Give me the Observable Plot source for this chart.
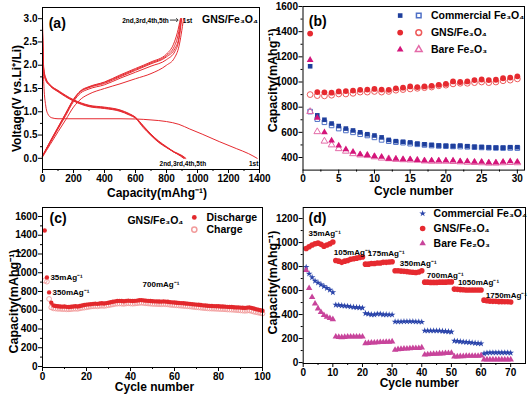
<!DOCTYPE html>
<html><head><meta charset="utf-8">
<script src="https://cdn.jsdelivr.net/npm/d3@7"></script>
<script src="https://cdn.jsdelivr.net/npm/@observablehq/plot@0.6"></script>
<style>
body{margin:0;background:#fff;}
#wrap{position:relative;width:532px;height:395px;overflow:hidden;background:#fff;}
#wrap > div{position:absolute;}
</style></head><body>
<div id="wrap"><div id="pa" style="left:0;top:0"></div><div id="pb" style="left:266px;top:0"></div><div id="pc" style="left:0;top:197px"></div><div id="pd" style="left:266px;top:197px"></div></div>
<script>
// ---------- Panel (a): voltage profiles ----------
const aDis1Cap = [0,4,10,20,35,60,100,300,500,600,700,800,880,950,1030,1140,1250,1330,1385];
const aDis1V   = [2.65,2.0,1.5,1.15,0.95,0.87,0.85,0.85,0.85,0.845,0.825,0.79,0.73,0.63,0.52,0.36,0.21,0.1,0.0];
const aDis2Cap = [0,3,8,20,50,100,200,300,400,500,560,600,650,700,750,800,850,900,920];
const aDis2V   = [2.7,2.2,1.85,1.68,1.55,1.43,1.23,1.11,1.07,1.01,0.93,0.86,0.66,0.49,0.34,0.23,0.13,0.05,0.0];
const aDis3Cap = [0,3,8,20,50,100,200,300,400,500,560,600,650,700,750,800,850,895,915];
const aDis3V   = [2.75,2.25,1.88,1.7,1.56,1.44,1.24,1.12,1.08,1.02,0.94,0.87,0.68,0.5,0.35,0.24,0.13,0.05,0.0];
const aDis4Cap = [0,3,8,20,50,100,200,300,400,500,560,600,650,700,750,800,850,890,910];
const aDis4V   = [2.8,2.3,1.9,1.72,1.57,1.45,1.25,1.13,1.09,1.03,0.95,0.88,0.69,0.51,0.36,0.24,0.13,0.05,0.0];
const aDis5Cap = [0,3,8,20,50,100,200,300,400,500,560,600,650,700,750,800,850,900,925];
const aDis5V   = [3.0,2.4,1.95,1.74,1.58,1.46,1.26,1.14,1.1,1.04,0.96,0.88,0.7,0.52,0.37,0.25,0.14,0.06,0.0];
const aChg1Cap = [0,50,100,150,200,250,300,400,500,600,700,800,850,880,910];
const aChg1V   = [0.03,0.3,0.57,0.83,1.1,1.28,1.38,1.5,1.6,1.71,1.82,2.0,2.15,2.4,3.0];
const aChg2Cap = [0,50,100,150,200,245,300,400,500,600,700,800,855,880,895];
const aChg2V   = [0.05,0.35,0.65,0.95,1.25,1.43,1.52,1.61,1.75,1.89,2.03,2.18,2.36,2.6,3.0];
const aChg3Cap = [0,50,100,150,200,245,300,400,500,600,700,800,850,875,893];
const aChg3V   = [0.05,0.36,0.66,0.96,1.26,1.44,1.53,1.63,1.77,1.91,2.05,2.21,2.4,2.65,3.0];
const aChg4Cap = [0,50,100,150,200,245,300,400,500,600,700,800,845,870,890];
const aChg4V   = [0.05,0.37,0.67,0.97,1.27,1.45,1.54,1.64,1.79,1.93,2.07,2.24,2.45,2.7,3.0];
const aChg5Cap = [0,50,100,150,200,245,300,400,500,600,700,800,855,880,898];
const aChg5V   = [0.04,0.34,0.63,0.92,1.22,1.4,1.49,1.58,1.72,1.85,1.98,2.12,2.3,2.55,3.0];
const aCapTicks = [0,200,400,600,800,1000,1200,1400];
const aVTicks = [0,0.5,1,1.5,2,2.5,3];

// ---------- Panel (b): cycling at constant rate ----------
const bCycles = d3.range(1,31);
const bCommDis = [1125,735,700,670,650,630,615,600,585,575,560,540,530,525,520,510,505,500,495,493,490,495,490,485,483,480,478,478,482,482];
const bCommChg = [765,705,680,655,630,615,600,585,575,560,540,530,522,518,510,505,500,495,492,490,488,487,485,482,480,478,476,475,476,475];
const bGnsDis  = [1385,920,918,915,925,928,932,938,940,945,940,938,950,955,965,960,965,970,978,985,1005,1000,1005,1015,1020,1015,1018,1030,1035,1045];
const bGnsChg  = [900,892,890,895,905,905,910,920,920,925,920,925,935,940,945,950,955,960,970,975,985,990,990,995,1000,995,1000,1010,1015,1025];
const bBareDis = [1175,715,600,535,495,465,445,425,420,410,405,390,390,385,385,380,375,375,375,375,375,370,370,365,365,360,360,365,370,365];
const bBareChg = [765,605,530,500,470,450,430,420,415,405,395,390,385,382,380,378,372,370,370,370,368,365,362,360,358,355,355,358,360,358];
const bNames = ["Commercial Fe₃O₄","GNS/Fe₃O₄","Bare Fe₂O₃"];

// ---------- Panel (c): long cycling ----------
const cDischarge = [1450,950,790,680,
 650,645,642,640,638,640,
 636,635,637,640,642,640,645,650,655,660,
 662,665,668,670,668,672,675,672,676,680,
 685,690,695,698,700,698,696,700,702,700,
 698,700,703,706,708,705,702,700,698,696,
 695,694,693,692,694,692,690,686,684,682,
 680,678,676,674,672,670,668,665,662,660,
 658,655,652,650,648,646,645,644,643,642,
 640,640,638,636,635,634,632,630,630,628,
 626,625,628,630,625,618,612,606,600,595];
const cCharge = [915,905,720,630,
 620,618,615,615,612,612,
 610,610,612,615,616,615,620,625,628,632,
 636,640,642,644,642,646,648,646,650,654,
 658,662,668,670,672,670,668,672,674,672,
 670,672,675,678,680,677,674,672,670,668,
 667,666,665,664,666,664,662,658,656,654,
 652,650,648,646,644,642,640,637,634,632,
 630,627,624,622,620,618,617,616,615,614,
 612,612,610,608,607,606,604,602,600,598,
 596,594,596,598,592,585,580,575,570,565];

// ---------- Panel (d): rate capability ----------
const dComm = [795,740,710,680,665,650,635,620,605,585,
 480,478,475,472,470,465,462,460,458,455,
 410,405,400,400,405,405,400,400,398,398,
 340,340,340,342,342,342,342,340,340,338,
 265,265,265,265,265,265,262,260,258,255,
 180,178,175,172,170,168,165,162,160,158,
 75,80,82,82,82,82,82,82,82,80];
const dGns = [950,965,980,990,995,985,970,980,990,1005,
 850,845,835,845,850,860,865,870,875,880,
 820,820,825,825,830,830,835,835,838,840,
 765,765,762,760,758,755,752,750,755,765,
 670,670,668,668,668,670,670,670,672,672,
 612,610,608,606,605,605,605,605,605,605,
 520,515,512,510,510,508,508,507,507,505];
const dBare = [770,620,545,490,450,420,395,380,370,360,
 215,212,210,212,215,215,215,215,215,215,
 160,162,165,165,168,170,170,172,172,175,
 105,110,112,115,115,118,120,120,120,125,
 65,68,70,72,72,75,75,78,78,80,
 50,50,52,52,55,55,55,55,55,58,
 25,25,25,25,25,25,25,25,25,25];
const dRates = ["35mAg⁻¹","105mAg⁻¹","175mAg⁻¹","350mAg⁻¹","700mAg⁻¹","1050mAg⁻¹","1750mAg⁻¹"];

// ---------- styling ----------
const FONT = '"Liberation Sans", Arial, Helvetica, sans-serif';
const RED = "#e62a30", RED_O = "#ee5a5a";
const BLUE = "#1f3f9c", BLUE_O = "#4f70c6";
const MAG = "#d4157a", MAG_O = "#e46aa8";
const style = {fontFamily: FONT, fontWeight: "bold", fontSize: "10px", background: "transparent", overflow: "visible", color: "#000"};
const T = (s, o) => Plot.text([s], {text: d => d, fill: "#000", ...o});
function axes(xMaj, xMin, yMaj, yMin, yFmt) {
  return [
    Plot.axisX({ticks: xMaj, tickSize: 4, tickPadding: 1, label: null, fontSize: 10, tickFormat: d3.format("d")}),
    Plot.axisX({ticks: xMin, tickSize: 2, tickFormat: () => "", label: null}),
    Plot.axisY({ticks: yMaj, tickSize: 4, tickPadding: 1, label: null, fontSize: 10, tickFormat: yFmt}),
    Plot.axisY({ticks: yMin, tickSize: 2, tickFormat: () => "", label: null}),
    Plot.frame({stroke: "#000", strokeWidth: 1})
  ];
}

// ---------- build (a) ----------
const aCurves = [
  [aDis1Cap,aDis1V],[aDis2Cap,aDis2V],[aDis3Cap,aDis3V],[aDis4Cap,aDis4V],[aDis5Cap,aDis5V],
  [aChg1Cap,aChg1V],[aChg2Cap,aChg2V],[aChg3Cap,aChg3V],[aChg4Cap,aChg4V],[aChg5Cap,aChg5V]
];
const rowsA = [];
aCurves.forEach(([c, v], k) => c.forEach((x, i) => rowsA.push({cap: x, v: v[i], id: k})));
const plotA = Plot.plot({
  width: 268, height: 197, marginLeft: 42, marginRight: 9, marginTop: 7, marginBottom: 28,
  style,
  x: {domain: [0, 1400], label: null}, y: {domain: [-0.24, 3.24], label: null},
  marks: [
    Plot.line(rowsA, {x: "cap", y: "v", z: "id", stroke: RED, strokeWidth: 1, curve: "monotone-x"}),
    ...axes(aCapTicks, d3.range(100, 1400, 200), aVTicks, d3.range(0.25, 3.2, 0.5), d3.format(".1f")),
    T("(a)", {x: () => 40, y: () => 2.9, textAnchor: "start", fontSize: 14}),
    T("GNS/Fe₃O₄", {x: () => 1390, y: () => 2.99, textAnchor: "end", fontSize: 10.5}),
    T("2nd,3rd,4th,5th", {x: () => 815, y: () => 2.96, textAnchor: "end", fontSize: 6.5}),
    Plot.link([0], {x1: () => 822, x2: () => 870, y1: () => 2.97, y2: () => 2.97, stroke: "black", strokeWidth: 0.8, markerEnd: "arrow"}),
    T("1st", {x: () => 905, y: () => 2.96, textAnchor: "start", fontSize: 6.5}),
    T("2nd,3rd,4th,5th", {x: () => 755, y: () => -0.13, textAnchor: "start", fontSize: 6.5}),
    T("1st", {x: () => 1393, y: () => -0.13, textAnchor: "end", fontSize: 6.5}),
    T("Capacity(mAhg⁻¹)", {frameAnchor: "bottom", textAnchor: "middle", lineAnchor: "middle", dx: 6, dy: 24, fontSize: 12}),
    T("Voltage(V vs.Li⁺/Li)", {frameAnchor: "left", textAnchor: "middle", lineAnchor: "middle", rotate: -90, dx: -25, dy: 10, fontSize: 12})
  ]
});
document.getElementById("pa").appendChild(plotA);

// ---------- build (b) ----------
const seriesB = [
  {name: bNames[0], fill: BLUE, open: BLUE_O, symbol: "square", r: 2.6, dis: bCommDis, chg: bCommChg},
  {name: bNames[1], fill: RED, open: RED_O, symbol: "circle", r: 2.9, dis: bGnsDis, chg: bGnsChg},
  {name: bNames[2], fill: MAG, open: MAG_O, symbol: "triangle", r: 2.5, dis: bBareDis, chg: bBareChg}
];
const marksB = [];
seriesB.forEach((s, si) => {
  const rowsO = s.chg.map((v, i) => ({cycle: bCycles[i], cap: v}));
  const rowsF = s.dis.map((v, i) => ({cycle: bCycles[i], cap: v}));
  marksB.push(Plot.dot(rowsO, {x: "cycle", y: "cap", symbol: s.symbol, r: s.r, stroke: s.open, strokeWidth: 1, fill: "none"}));
  marksB.push(Plot.dot(rowsF, {x: "cycle", y: "cap", symbol: s.symbol, r: s.r, fill: s.fill}));
  const ly = 1528 - si * 135;
  marksB.push(Plot.dot([s], {x: () => 13.6, y: () => ly, symbol: s.symbol, r: s.r, fill: s.fill}));
  marksB.push(Plot.dot([s], {x: () => 16.2, y: () => ly, symbol: s.symbol, r: s.r, stroke: s.open, fill: "none"}));
  marksB.push(Plot.text([s], {x: () => 17.9, y: () => ly, text: d => d.name, textAnchor: "start", fontSize: 10.5, fill: "#000"}));
});
const plotB = Plot.plot({
  width: 266, height: 197, marginLeft: 36.5, marginRight: 8, marginTop: 6, marginBottom: 27.4,
  style,
  x: {domain: [0, 31], label: null}, y: {domain: [300, 1600], label: null},
  marks: [
    ...marksB,
    ...axes(d3.range(0, 31, 5), d3.range(2.5, 31, 5), d3.range(400, 1601, 200), d3.range(500, 1600, 200), d3.format("d")),
    T("(b)", {x: () => 0.8, y: () => 1480, textAnchor: "start", fontSize: 14}),
    T("Cycle number", {frameAnchor: "bottom", textAnchor: "middle", lineAnchor: "middle", dx: 0, dy: 21, fontSize: 12}),
    T("Capacity(mAhg⁻¹)", {frameAnchor: "left", textAnchor: "middle", lineAnchor: "middle", rotate: -90, dx: -30, dy: -8, fontSize: 12.5})
  ]
});
document.getElementById("pb").appendChild(plotB);

// ---------- build (c) ----------
const rowsCD = cDischarge.map((v, i) => ({cycle: i + 1, cap: v}));
const rowsCC = cCharge.map((v, i) => ({cycle: i + 1, cap: v}));
const plotC = Plot.plot({
  width: 268, height: 198, marginLeft: 42, marginRight: 6, marginTop: 10, marginBottom: 28,
  style,
  x: {domain: [0, 100], label: null}, y: {domain: [-11, 1696], label: null},
  marks: [
    Plot.dot(rowsCC, {x: "cycle", y: "cap", r: 2.4, stroke: "#f29c9c", strokeWidth: 0.9, fill: "none"}),
    Plot.dot(rowsCD, {x: "cycle", y: "cap", r: 2.2, fill: "#e2282c"}),
    ...axes(d3.range(0, 101, 20), d3.range(10, 100, 20), d3.range(0, 1601, 200), d3.range(100, 1700, 200), d3.format("d")),
    T("(c)", {x: () => 3.2, y: () => 1580, textAnchor: "start", fontSize: 14}),
    T("GNS/Fe₃O₄", {x: () => 38.6, y: () => 1555, textAnchor: "start", fontSize: 10.5}),
    Plot.dot([0], {x: () => 69, y: () => 1590, r: 2.4, fill: "#e2282c"}),
    Plot.dot([0], {x: () => 69, y: () => 1461, r: 2.6, stroke: "#f29c9c", fill: "none"}),
    T("Discharge", {x: () => 74.5, y: () => 1590, textAnchor: "start", fontSize: 10.5}),
    T("Charge", {x: () => 74.5, y: () => 1461, textAnchor: "start", fontSize: 10.5}),
    T("35mAg⁻¹", {x: () => 3.6, y: () => 950, textAnchor: "start", fontSize: 8}),
    T("350mAg⁻¹", {x: () => 4.6, y: () => 790, textAnchor: "start", fontSize: 8}),
    T("700mAg⁻¹", {x: () => 45.5, y: () => 875, textAnchor: "start", fontSize: 8}),
    T("Cycle number", {frameAnchor: "bottom", textAnchor: "middle", lineAnchor: "middle", dx: 2, dy: 20, fontSize: 12}),
    T("Capacity(mAhg⁻¹)", {frameAnchor: "left", textAnchor: "middle", lineAnchor: "middle", rotate: -90, dx: -29, dy: 14, fontSize: 12.5})
  ]
});
document.getElementById("pc").appendChild(plotC);

// ---------- build (d) ----------
const seriesD = [
  {name: bNames[0], fill: "#2a44aa", symbol: "star", r: 2.1, vals: dComm},
  {name: bNames[1], fill: RED, symbol: "circle", r: 2.8, vals: dGns},
  {name: bNames[2], fill: "#c8449b", symbol: "triangle", r: 2.4, vals: dBare}
];
const marksD = [];
seriesD.forEach((s, si) => {
  const rows = s.vals.map((v, i) => ({cycle: i + 1, cap: v}));
  marksD.push(Plot.dot(rows, {x: "cycle", y: "cap", symbol: s.symbol, r: s.r, fill: s.fill}));
  const ly = 1242 - si * 125;
  marksD.push(Plot.dot([s], {x: () => 40.3, y: () => ly, symbol: s.symbol, r: s.r, fill: s.fill}));
  marksD.push(Plot.text([s], {x: () => 44, y: () => ly, text: d => d.name, textAnchor: "start", fontSize: 10.5, fill: "#000"}));
});
const rateX = [1.8, 10.3, 21.8, 32.6, 41.7, 52.2, 61.6];
const rateY = [1075, 915, 908, 825, 725, 667, 558];
const rateRows = dRates.map((t, i) => ({t, x: rateX[i], y: rateY[i]}));
const plotD = Plot.plot({
  width: 266, height: 198, marginLeft: 36.7, marginRight: 7, marginTop: 10, marginBottom: 32,
  style,
  x: {domain: [0, 75], label: null}, y: {domain: [-8, 1292], label: null},
  marks: [
    ...marksD,
    Plot.text(rateRows, {x: "x", y: "y", text: "t", textAnchor: "start", fontSize: 8, fill: "#000"}),
    ...axes(d3.range(0, 71, 10), d3.range(5, 75, 10), d3.range(0, 1201, 200), d3.range(100, 1300, 200), d3.format("d")),
    T("(d)", {x: () => 1.8, y: () => 1200, textAnchor: "start", fontSize: 14}),
    T("Cycle number", {frameAnchor: "bottom", textAnchor: "middle", lineAnchor: "middle", dx: 5, dy: 20, fontSize: 12}),
    T("Capacity(mAhg⁻¹)", {frameAnchor: "left", textAnchor: "middle", lineAnchor: "middle", rotate: -90, dx: -30, dy: -3, fontSize: 12.5})
  ]
});
document.getElementById("pd").appendChild(plotD);
</script>
</body></html>
